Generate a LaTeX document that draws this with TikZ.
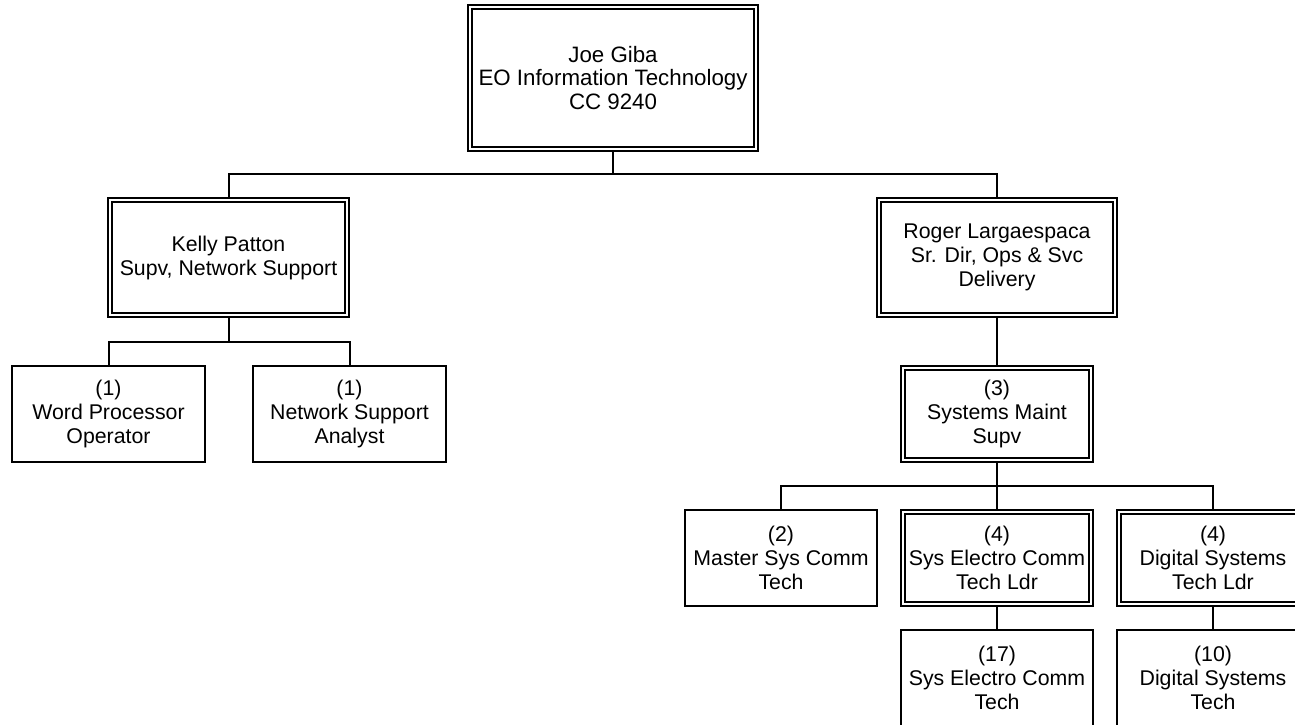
\documentclass[tikz,border=0pt]{standalone}
\usepackage{fontspec}
\setmainfont{Liberation Sans}
\usetikzlibrary{backgrounds}
\tikzset{
  orgbox/.style={draw, line width=2pt, inner sep=0pt, outer sep=0pt, align=center,
    minimum width=192pt, minimum height=96pt, font=\fontsize{21.3}{24}\selectfont},
  dorgbox/.style={orgbox, double, double distance=2pt, minimum width=188pt, minimum height=92pt},
  link/.style={line width=2pt}
}
\begin{document}
\begin{tikzpicture}[x=1pt,y=-1pt]
\clip (0,0) rectangle (1295,724);
\node[dorgbox, minimum width=286pt, minimum height=142pt, font=\fontsize{22.3}{23.5}\selectfont] (top) at (613,78)
  {Joe Giba\\EO Information Technology\\CC 9240};
\node[dorgbox, minimum width=237pt, minimum height=115pt] (kelly) at (228.5,257.5)
  {Kelly Patton\\Supv, Network Support};
\node[dorgbox, minimum width=236pt, minimum height=115pt] (roger) at (997,257.5)
  {Roger Largaespaca\\Sr. Dir, Ops \& Svc\\Delivery};
\node[orgbox, minimum width=193pt] (word) at (108.5,414) {(1)\\Word Processor\\Operator};
\node[orgbox, minimum width=193pt] (netan) at (349.5,414) {(1)\\Network Support\\Analyst};
\node[dorgbox] (sysm) at (997,414) {(3)\\Systems Maint\\Supv};
\node[orgbox] (master) at (781,558) {(2)\\Master Sys Comm\\Tech};
\node[dorgbox] (seld) at (997,558) {(4)\\Sys Electro Comm\\Tech Ldr};
\node[dorgbox] (dld) at (1213,558) {(4)\\Digital Systems\\Tech Ldr};
\node[orgbox] (set) at (997,678) {(17)\\Sys Electro Comm\\Tech};
\node[orgbox] (dst) at (1213,678) {(10)\\Digital Systems\\Tech};
\coordinate (j1) at (613,174);
\coordinate (j2) at (228.5,342);
\coordinate (j3) at (997,486);
\begin{scope}[on background layer]
\draw[link] (top.south) -- (j1);
\draw[link] (j1) -| (kelly.north);
\draw[link] (j1) -| (roger.north);
\draw[link] (kelly.south) -- (j2);
\draw[link] (j2) -| (word.north);
\draw[link] (j2) -| (netan.north);
\draw[link] (roger.south) -- (sysm.north);
\draw[link] (sysm.south) -- (j3);
\draw[link] (j3) -| (master.north);
\draw[link] (j3) -- (seld.north);
\draw[link] (j3) -| (dld.north);
\draw[link] (seld.south) -- (set.north);
\draw[link] (dld.south) -- (dst.north);
\end{scope}
\end{tikzpicture}
\end{document}
